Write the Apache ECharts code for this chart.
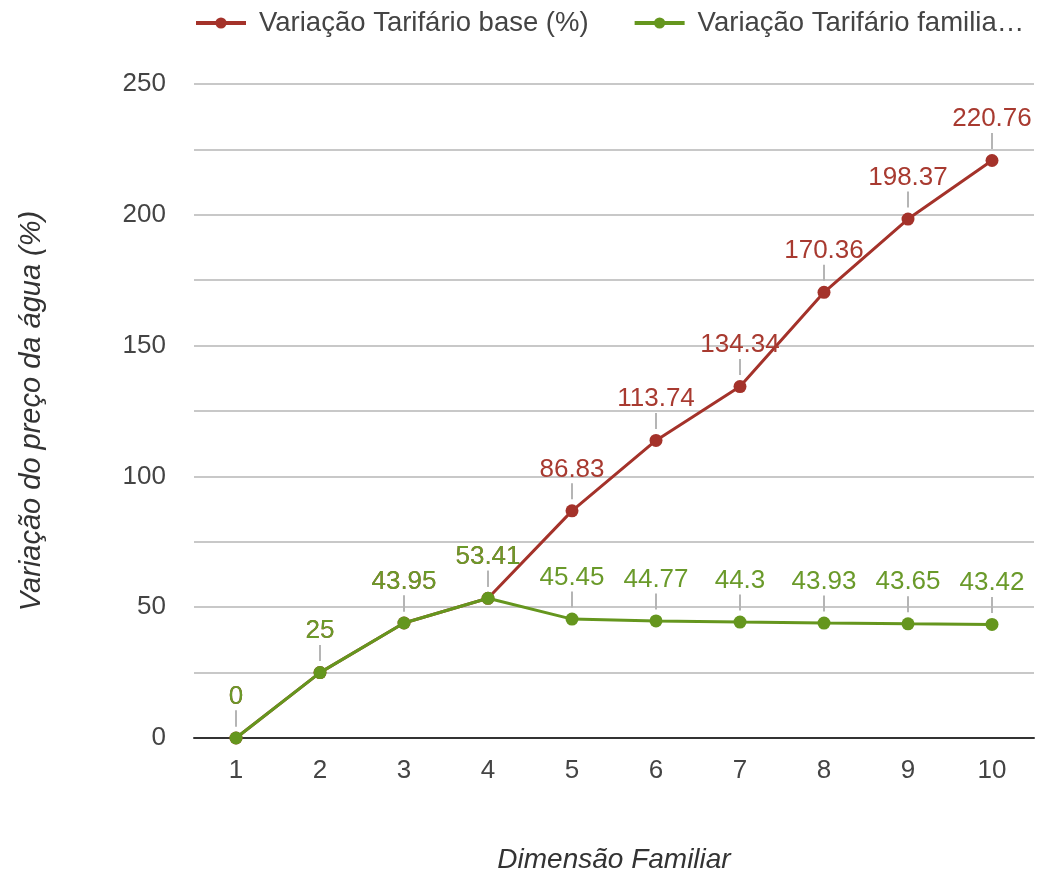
<!DOCTYPE html>
<html><head><meta charset="utf-8">
<script src="https://cdn.jsdelivr.net/npm/echarts@6/dist/echarts.min.js"></script>
<style>html,body{margin:0;padding:0;background:#fff}#c{width:1038px;height:879px}</style>
</head><body><div id="c"></div>
<script>
const categories = ['1','2','3','4','5','6','7','8','9','10'];
const baseValues = [0, 25, 43.95, 53.41, 86.83, 113.74, 134.34, 170.36, 198.37, 220.76];
const familyValues = [0, 25, 43.95, 53.41, 45.45, 44.77, 44.3, 43.93, 43.65, 43.42];
const seriesNames = ['Variação Tarifário base (%)', 'Variação Tarifário familia…'];
const font = '"Liberation Sans", Arial, sans-serif';

function lbl(color){
  return {
    show: true, position: 'top', distance: 5,
    formatter: p => '{v|' + p.value + '}\n{l|}',
    rich: {
      v: {fontSize: 26, color: color, fontFamily: font, lineHeight: 28, align: 'center'},
      l: {width: 2, height: 16, backgroundColor: '#b5b5b5', align: 'center'}
    }
  };
}
const chart = echarts.init(document.getElementById('c'));
chart.setOption({
  animation: false,
  textStyle: {fontFamily: font},
  legend: {
    top: 9, left: 194, width: 900, padding: 0, itemWidth: 50, itemHeight: 14, itemGap: 44,
    lineStyle: {width: 4},
    textStyle: {fontSize: 27.5, color: '#444', fontFamily: font, padding: [0, 0, 0, 8]},
    data: seriesNames
  },
  grid: {left: 194, right: 4, top: 84, bottom: 139, containLabel: false},
  xAxis: {
    type: 'category', data: categories, boundaryGap: true,
    axisLine: {lineStyle: {color: '#333', width: 2}},
    axisTick: {show: false},
    axisLabel: {fontSize: 26, color: '#444', margin: 20},
    name: 'Dimensão Familiar', nameLocation: 'middle', nameGap: 108,
    nameTextStyle: {fontSize: 28, fontStyle: 'italic', color: '#333'}
  },
  yAxis: {
    type: 'value', min: 0, max: 250, interval: 25,
    axisLine: {show: false}, axisTick: {show: false},
    splitLine: {lineStyle: {color: '#c8c8c8', width: 2}},
    axisLabel: {fontSize: 26, color: '#444', margin: 28,
      formatter: v => (v % 50 === 0 ? String(v) : '')},
    name: 'Variação do preço da água (%)', nameLocation: 'middle', nameGap: 148, nameRotate: 90,
    nameTextStyle: {fontSize: 29, fontStyle: 'italic', color: '#333'}
  },
  series: [
    {name: seriesNames[0], type: 'line', data: baseValues, symbol: 'circle', symbolSize: 13,
     itemStyle: {color: '#a4322a'}, lineStyle: {width: 3, color: '#a4322a'},
     label: lbl('#a83a30'), z: 2},
    {name: seriesNames[1], type: 'line', data: familyValues, symbol: 'circle', symbolSize: 13,
     itemStyle: {color: '#65961e'}, lineStyle: {width: 3, color: '#65961e'},
     label: lbl('#6a9a2a'), z: 3}
  ]
});
</script></body></html>
